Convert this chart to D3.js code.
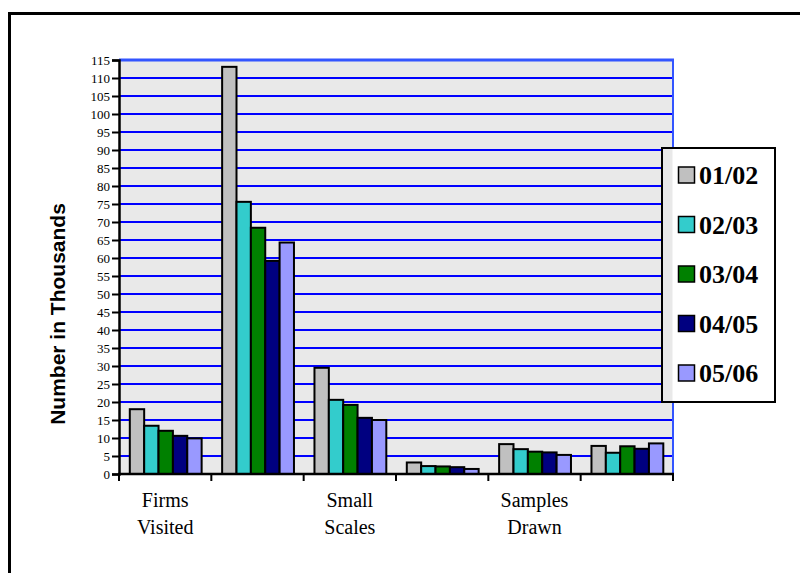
<!DOCTYPE html>
<html>
<head>
<meta charset="utf-8">
<script src="https://cdn.jsdelivr.net/npm/d3@7"></script>
<style>
  html, body { margin: 0; padding: 0; background: #fff; }
  svg { display: block; }
  .serif { font-family: "Liberation Serif", "Times New Roman", "DejaVu Serif", serif; }
  .sans { font-family: "Liberation Sans", Arial, "DejaVu Sans", sans-serif; }
</style>
</head>
<body>
<svg id="chart" width="800" height="573"></svg>
<script>
// ---- data ----
const categoryLabels = [["Firms", "Visited"], [], ["Small", "Scales"], [], ["Samples", "Drawn"], []];
const seriesNames = ["01/02", "02/03", "03/04", "04/05", "05/06"];
const seriesColors = ["#C0C0C0", "#33CCCC", "#008000", "#000080", "#9999FF"];
const values01_02 = [18.0, 113.1, 29.5, 3.2, 8.3, 7.8];
const values02_03 = [13.4, 75.6, 20.6, 2.2, 6.9, 5.9];
const values03_04 = [12.0, 68.4, 19.2, 2.1, 6.2, 7.7];
const values04_05 = [10.6, 59.2, 15.6, 1.9, 6.0, 7.0];
const values05_06 = [9.9, 64.3, 15.0, 1.4, 5.3, 8.5];
const seriesValues = [values01_02, values02_03, values03_04, values04_05, values05_06];
const yTicks = d3.range(0, 116, 5);
const yTitle = "Number in Thousands";

// ---- layout ----
const svg = d3.select("#chart");
const L = 119, R = 673, T = 60, B = 474;

// outer frame (only top/left visible)
svg.append("rect").attr("x", 9.5).attr("y", 13.5).attr("width", 820).attr("height", 620)
  .attr("fill", "none").attr("stroke", "#000").attr("stroke-width", 3);

const y = d3.scaleLinear().domain([0, 115]).range([B, T]);
const x0 = d3.scaleBand().domain(d3.range(categoryLabels.length)).range([L, R]).padding(0);
const step = x0.step();
const x1 = d3.scaleBand().domain(d3.range(seriesNames.length))
  .range([step * 0.117, step * 0.895]).padding(0);

// plot background
svg.append("rect").attr("x", L).attr("y", T).attr("width", R - L).attr("height", B - T)
  .attr("fill", "#E9E9E9");

// gridlines
svg.append("g").selectAll("line").data(yTicks.filter(d => d > 0 && d < 115)).join("line")
  .attr("x1", L).attr("x2", R).attr("y1", d => y(d)).attr("y2", d => y(d))
  .attr("stroke", "#0000FF").attr("stroke-width", 2);

// plot top and right borders
svg.append("line").attr("x1", L).attr("x2", R + 1).attr("y1", T).attr("y2", T)
  .attr("stroke", "#3355FF").attr("stroke-width", 3);
svg.append("line").attr("x1", R).attr("x2", R).attr("y1", T).attr("y2", B)
  .attr("stroke", "#3355FF").attr("stroke-width", 2);

// bars
const groups = svg.append("g").selectAll("g").data(d3.range(categoryLabels.length)).join("g")
  .attr("transform", i => `translate(${x0(i)},0)`);
groups.selectAll("rect").data(i => seriesValues.map((vals, s) => ({ s, v: vals[i] }))).join("rect")
  .attr("x", d => x1(d.s)).attr("width", x1.bandwidth())
  .attr("y", d => y(d.v)).attr("height", d => y(0) - y(d.v))
  .attr("fill", d => seriesColors[d.s]).attr("stroke", "#000").attr("stroke-width", 2);

// y axis
const yAxis = d3.axisLeft(y).tickValues(yTicks).tickSize(7).tickPadding(2).tickFormat(d3.format("d"));
const gy = svg.append("g").attr("transform", `translate(${L},0)`).call(yAxis);
gy.attr("font-family", null).attr("font-size", null);
gy.select(".domain").attr("stroke", "#000").attr("stroke-width", 2.5);
gy.selectAll(".tick line").attr("stroke", "#000").attr("stroke-width", 2);
gy.selectAll(".tick text").attr("class", "serif")
  .style("font-size", "13px").attr("fill", "#000");

// x axis
const gx = svg.append("g");
gx.append("line").attr("x1", L - 1).attr("x2", R + 1).attr("y1", B).attr("y2", B)
  .attr("stroke", "#000").attr("stroke-width", 2.5);
const boundaries = d3.range(categoryLabels.length + 1).map(i => i < categoryLabels.length ? x0(i) : x0(i - 1) + step);
gx.selectAll("line.tk").data(boundaries).join("line").attr("class", "tk")
  .attr("x1", d => d).attr("x2", d => d).attr("y1", B).attr("y2", B + 7)
  .attr("stroke", "#000").attr("stroke-width", 2);
const labs = gx.selectAll("text").data(d3.range(categoryLabels.length)).join("text")
  .attr("class", "serif")
  .attr("x", i => x0(i) + step / 2).attr("y", 507)
  .attr("text-anchor", "middle")
  .style("font-size", "20px").attr("fill", "#000");
labs.selectAll("tspan").data(i => categoryLabels[i]).join("tspan")
  .attr("x", function () { return d3.select(this.parentNode).attr("x"); })
  .attr("dy", (d, j) => j === 0 ? 0 : 27)
  .text(d => d);

// y title
svg.append("text")
  .attr("class", "sans")
  .attr("transform", "translate(65,314) rotate(-90)")
  .attr("text-anchor", "middle")
  .style("font-weight", "bold").style("font-size", "21px")
  .text(yTitle);

// legend
const lg = svg.append("g");
lg.append("rect").attr("x", 662).attr("y", 148).attr("width", 113).attr("height", 254)
  .attr("fill", "#fff").attr("stroke", "#000").attr("stroke-width", 2);
lg.append("rect").attr("x", 663).attr("y", 149).attr("width", 9.5).attr("height", 252)
  .attr("fill", "#E9E9E9");
const items = lg.selectAll("g.it").data(seriesNames).join("g").attr("class", "it")
  .attr("transform", (d, i) => `translate(0,${175 + i * 49.5})`);
items.append("rect").attr("x", 678.5).attr("y", -8).attr("width", 16).attr("height", 16)
  .attr("fill", (d, i) => seriesColors[i]).attr("stroke", "#000").attr("stroke-width", 1.5);
items.append("text").attr("class", "serif").attr("x", 699).attr("y", 9)
  .style("font-weight", "bold").style("font-size", "26px").attr("fill", "#000")
  .text(d => d);
</script>
</body>
</html>
